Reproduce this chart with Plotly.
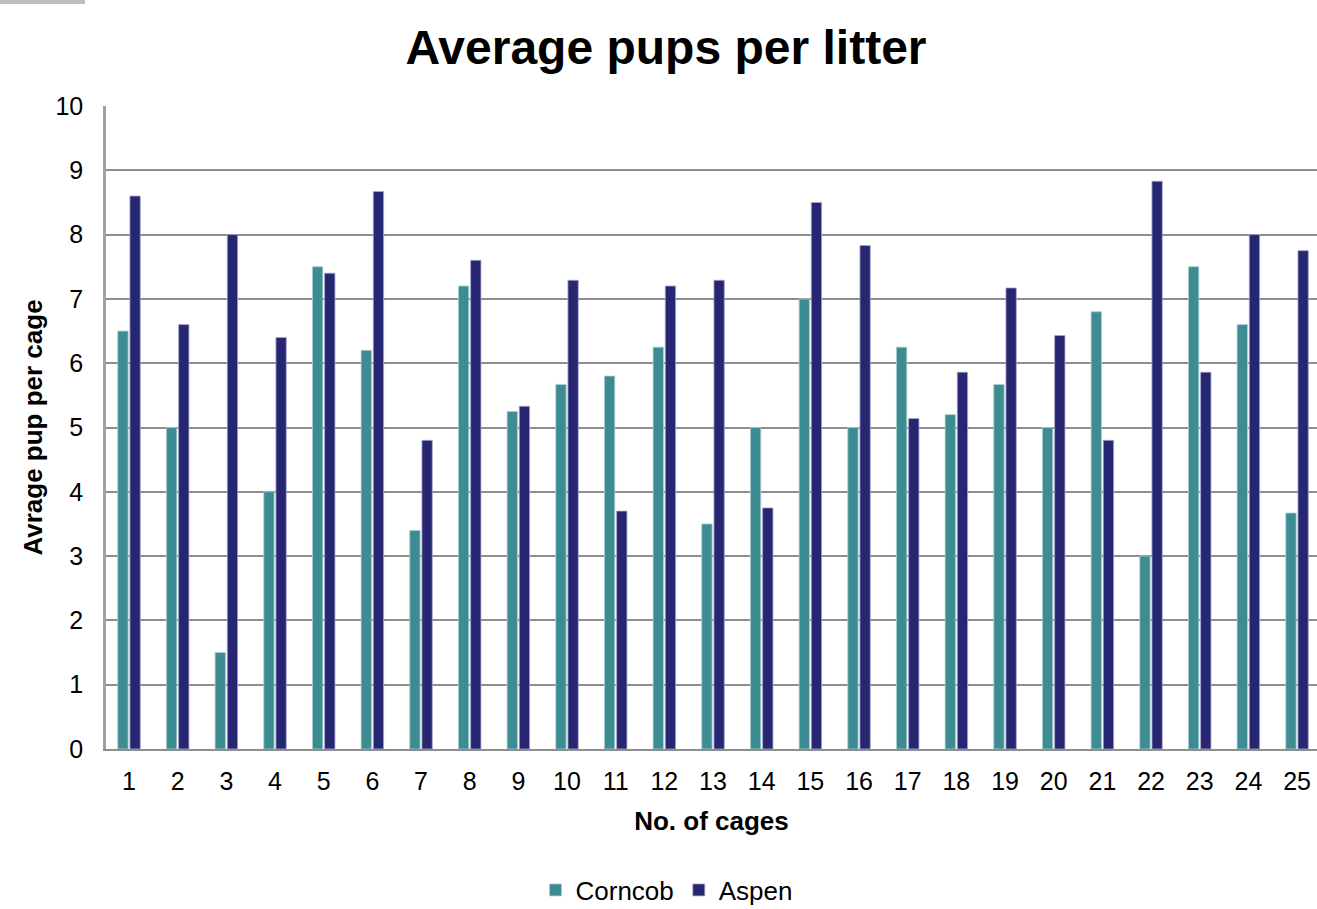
import plotly.graph_objects as go

# Cage numbers along the x axis
cages = list(range(1, 26))
tick_labels = [str(c) for c in cages]

# Average pups per litter for each bedding type
corncob = [6.5, 5.0, 1.5, 4.0, 7.5, 6.2, 3.4, 7.2, 5.25, 5.67,
           5.8, 6.25, 3.5, 5.0, 7.0, 5.0, 6.25, 5.2, 5.67, 5.0,
           6.8, 3.0, 7.5, 6.6, 3.67]
aspen = [8.6, 6.6, 8.0, 6.4, 7.4, 8.67, 4.8, 7.6, 5.33, 7.29,
         3.7, 7.2, 7.29, 3.75, 8.5, 7.83, 5.14, 5.86, 7.17, 6.43,
         4.8, 8.83, 5.86, 8.0, 7.75]

FONT = "Liberation Sans, Arial, sans-serif"
TEAL = "#3c8c92"
NAVY = "#272672"
GRID = "#8e8e8e"

fig = go.Figure()
fig.add_trace(go.Bar(
    name="Corncob", x=cages, y=corncob,
    marker=dict(color=TEAL, line=dict(color="#a9cfd2", width=0.8)),
))
fig.add_trace(go.Bar(
    name="Aspen", x=cages, y=aspen,
    marker=dict(color=NAVY, line=dict(color="#a7a7c9", width=0.8)),
))

# faint grey strip in the top-left corner
fig.add_shape(
    type="rect", xref="paper", yref="paper",
    x0=-106 / 1211, x1=-21 / 1211, y0=745 / 643, y1=749 / 643,
    fillcolor="rgba(110,110,110,0.45)", line=dict(width=0), layer="above",
)

fig.update_layout(
    width=1317, height=909,
    margin=dict(l=106, r=0, t=106, b=160, autoexpand=False),
    paper_bgcolor="white", plot_bgcolor="white",
    barmode="group", bargap=0.5, bargroupgap=0.15,
    font=dict(family=FONT, color="#000000", size=25),
    title=dict(
        text="<b>Average pups per litter</b>",
        font=dict(family=FONT, size=48, color="#000000"),
        x=666 / 1317, xref="container", xanchor="center",
        y=1 - 47 / 909, yref="container", yanchor="middle",
    ),
    legend=dict(
        orientation="h",
        x=667 / 1317, xref="container", xanchor="center",
        y=19 / 909, yref="container", yanchor="middle",
        font=dict(family=FONT, size=26, color="#000000"),
        itemwidth=30, tracegroupgap=0,
        bgcolor="rgba(0,0,0,0)",
    ),
    showlegend=True,
)

fig.update_xaxes(
    range=[0.527, 25.41],
    tickmode="array", tickvals=cages, ticktext=tick_labels,
    tickfont=dict(family=FONT, size=25, color="#000000"),
    ticks="", ticklabelstandoff=9,
    showgrid=False, zeroline=False,
    showline=True, linecolor=GRID, linewidth=2,
    title=dict(text="<b>No. of cages</b>",
               font=dict(family=FONT, size=26, color="#000000"),
               standoff=18),
)

fig.update_yaxes(
    range=[0, 10], dtick=1, tick0=0,
    tickfont=dict(family=FONT, size=25, color="#000000"),
    ticks="", ticklabelstandoff=15,
    showgrid=True, gridcolor=GRID, gridwidth=1.6,
    zeroline=False,
    showline=True, linecolor="#a0a0a0", linewidth=2.5,
    title=dict(text="<b>Avrage pup per cage</b>",
               font=dict(family=FONT, size=26, color="#000000"),
               standoff=6),
)

fig.write_html("out.html")
